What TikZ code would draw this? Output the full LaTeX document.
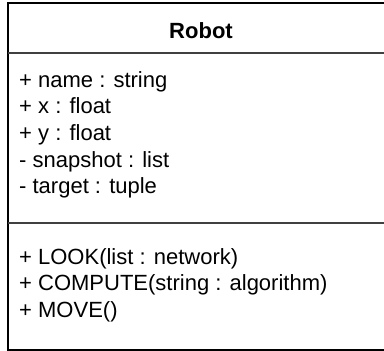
\documentclass[tikz,border=0pt]{standalone}
\usepackage{fontspec}
\setsansfont{Liberation Sans}
\usetikzlibrary{positioning}
\tikzstyle{every picture}=[x=1pt, y=-1pt]
\tikzstyle{every node}=[font=\sffamily\fontsize{22}{26}\selectfont]
\tikzstyle{member}=[anchor=base west, inner sep=0pt]
\tikzstyle{classbox}=[draw, line width=2pt]
\tikzstyle{divider}=[draw=black!75, line width=2pt]

\begin{document}
\begin{tikzpicture}
\useasboundingbox (0,0) rectangle (384,351);

\draw[classbox] (7.5,2.5) coordinate (BoxNW) rectangle (395,349.5) coordinate (BoxSE);

\coordinate (HeadL) at (7.5,52.7);
\coordinate (AttrL) at (7.5,222.7);
\draw[divider] (HeadL) -- (HeadL -| BoxSE);
\draw[divider] (AttrL) -- (AttrL -| BoxSE);

\node[anchor=base, inner sep=0pt, font=\sffamily\bfseries\fontsize{22}{26}\selectfont] (Robot) at (201,38.3) {Robot};

% attributes
\node[member] (Name) at (19,87) {+ name : string};
\node[below=26.7pt of Name.base west, member] (PosX) {+ x : float};
\node[below=26.7pt of PosX.base west, member] (PosY) {+ y : float};
\node[below=26.7pt of PosY.base west, member] (Snapshot) {- snapshot : list};
\node[below=26.7pt of Snapshot.base west, member] (Target) {- target : tuple};

% operations
\node[member] (Look) at (19,264) {+ LOOK(list : network)};
\node[below=26.7pt of Look.base west, member] (Compute) {+ COMPUTE(string : algorithm)};
\node[below=26.7pt of Compute.base west, member] (Move) {+ MOVE()};

\end{tikzpicture}
\end{document}
